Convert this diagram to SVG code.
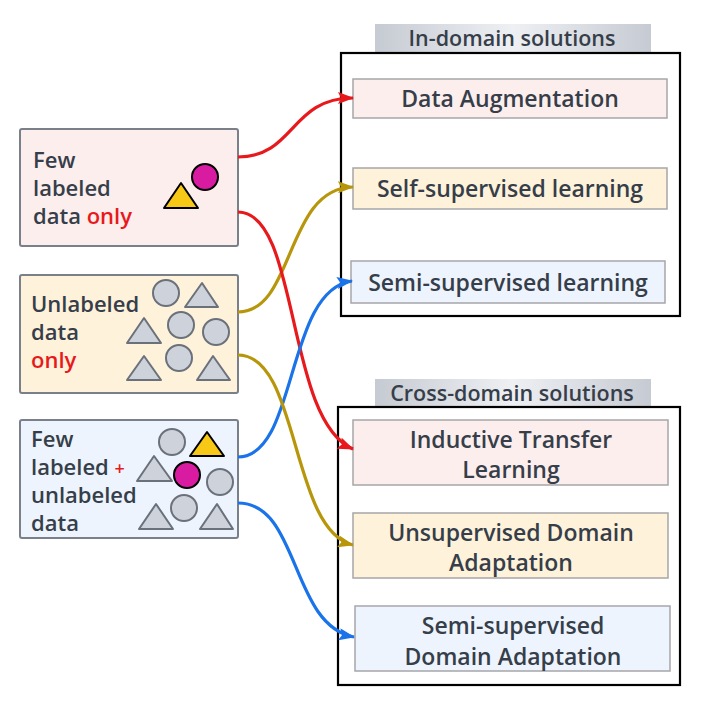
<svg xmlns="http://www.w3.org/2000/svg" width="706" height="716" viewBox="0 0 706 716">
<defs>
<style>
.lbox{stroke:#7a8089;stroke-width:2}
.rbox{stroke:#a6a6a9;stroke-width:1.5}
.cont{fill:none;stroke:#000;stroke-width:2.2}
.t{font-family:"Open Sans","Noto Sans",sans-serif;font-weight:600;fill:#363e49}
.lt{font-size:22px}
.rt{font-size:23px;text-anchor:middle}
.ht{font-size:21.5px;text-anchor:middle}
.red{fill:#e8191c}
.pink{fill:#fdeeee}
.yel{fill:#fff2db}
.blu{fill:#edf4fd}
.gc{fill:#ced3db;stroke:#6b717a;stroke-width:2}
.mag{fill:#d81ba0;stroke:#000;stroke-width:2}
.ytri{fill:#f7c815;stroke:#000;stroke-width:2;stroke-linejoin:round}
.gtri{fill:#ced3db;stroke:#6b717a;stroke-width:2;stroke-linejoin:round}
.c{fill:none;stroke-width:3.2}
</style>
<linearGradient id="hg" x1="0" y1="0" x2="1" y2="0">
<stop offset="0" stop-color="#c6cad2"/>
<stop offset="0.5" stop-color="#eef0f3"/>
<stop offset="1" stop-color="#c6cad2"/>
</linearGradient>
<marker id="aR" viewBox="0 0 16 12" refX="15" refY="6" markerWidth="16" markerHeight="12" markerUnits="userSpaceOnUse" orient="auto"><path d="M0,0 L16,6 L0,12 L3,6 z" fill="#e8191c"/></marker>
<marker id="aY" viewBox="0 0 16 12" refX="15" refY="6" markerWidth="16" markerHeight="12" markerUnits="userSpaceOnUse" orient="auto"><path d="M0,0 L16,6 L0,12 L3,6 z" fill="#b8960b"/></marker>
<marker id="aB" viewBox="0 0 16 12" refX="15" refY="6" markerWidth="16" markerHeight="12" markerUnits="userSpaceOnUse" orient="auto"><path d="M0,0 L16,6 L0,12 L3,6 z" fill="#1a73e8"/></marker>
</defs>
<rect width="706" height="716" fill="#fff"/>

<g id="in-domain">
<rect x="375" y="24" width="276" height="28" fill="url(#hg)"/>
<text class="t ht" x="512" y="46">In-domain solutions</text>
<rect class="cont" x="341" y="53" width="339" height="263"/>
</g>
<g id="cross-domain">
<rect x="375" y="379" width="276" height="28" fill="url(#hg)"/>
<text class="t ht" x="512" y="401">Cross-domain solutions</text>
<rect class="cont" x="338" y="407" width="342" height="278"/>
</g>

<g id="data-augmentation">
<rect class="rbox pink" x="353" y="79" width="314" height="39"/>
<text class="t rt" x="510" y="107">Data Augmentation</text>
</g>
<g id="self-supervised">
<rect class="rbox yel" x="353" y="168" width="314" height="41"/>
<text class="t rt" x="510" y="197">Self-supervised learning</text>
</g>
<g id="semi-supervised">
<rect class="rbox blu" x="351" y="261" width="314" height="42"/>
<text class="t rt" x="508" y="291">Semi-supervised learning</text>
</g>
<g id="inductive-transfer">
<rect class="rbox pink" x="353" y="420" width="315" height="65"/>
<text class="t rt" x="511" y="448">Inductive Transfer</text>
<text class="t rt" x="511" y="478">Learning</text>
</g>
<g id="uda">
<rect class="rbox yel" x="353" y="513" width="315" height="65"/>
<text class="t rt" x="511" y="541">Unsupervised Domain</text>
<text class="t rt" x="511" y="571">Adaptation</text>
</g>
<g id="ssda">
<rect class="rbox blu" x="355" y="606" width="315" height="65"/>
<text class="t rt" x="513" y="634">Semi-supervised</text>
<text class="t rt" x="513" y="665">Domain Adaptation</text>
</g>

<g id="few-labeled">
<rect class="lbox pink" x="20" y="129" width="218" height="117" rx="2"/>
<text class="t lt" x="33" y="168">Few</text>
<text class="t lt" x="33" y="196">labeled</text>
<text class="t lt" x="33" y="224">data <tspan class="red">only</tspan></text>
<polygon class="ytri" points="181,183 164,208 198,208"/>
<circle class="mag" cx="205" cy="177" r="13"/>
</g>

<g id="unlabeled">
<rect class="lbox yel" x="20" y="275" width="218" height="118" rx="2"/>
<text class="t lt" x="31" y="312">Unlabeled</text>
<text class="t lt" x="31" y="340">data</text>
<text class="t lt red" x="31" y="368">only</text>
<circle class="gc" cx="166" cy="293" r="13"/>
<polygon class="gtri" points="202,283 185,307 218,307"/>
<polygon class="gtri" points="144,318 127,343 161,343"/>
<circle class="gc" cx="181" cy="325" r="13"/>
<circle class="gc" cx="216" cy="332" r="13"/>
<circle class="gc" cx="179" cy="358" r="13"/>
<polygon class="gtri" points="144,356 127,380 161,380"/>
<polygon class="gtri" points="213,356 197,380 230,380"/>
</g>

<g id="few-plus-unlabeled">
<rect class="lbox blu" x="20" y="420" width="218" height="118" rx="2"/>
<text class="t lt" x="31" y="447">Few</text>
<text class="t lt" x="31" y="475">labeled <tspan class="red" font-size="18">+</tspan></text>
<text class="t lt" x="31" y="503">unlabeled</text>
<text class="t lt" x="31" y="531">data</text>
<circle class="gc" cx="172" cy="442" r="13"/>
<polygon class="ytri" points="207,432 190,456 224,456"/>
<polygon class="gtri" points="154,456 137,481 172,481"/>
<circle class="mag" cx="187" cy="475" r="13"/>
<circle class="gc" cx="220" cy="482" r="13"/>
<circle class="gc" cx="184" cy="508" r="13"/>
<polygon class="gtri" points="156,504 139,529 173,529"/>
<polygon class="gtri" points="217,504 200,529 233,529"/>
</g>

<g id="connectors">
<path class="c" stroke="#e8191c" marker-end="url(#aR)" d="M238,157 C295,157 290,98 353,98"/>
<path class="c" stroke="#b8960b" marker-end="url(#aY)" d="M238,312 C295,312 285,188 353,187"/>
<path class="c" stroke="#e8191c" marker-end="url(#aR)" d="M238,212 C300,212 285,420 353,449"/>
<path class="c" stroke="#1a73e8" marker-end="url(#aB)" d="M238,457 C298,457 285,290 352,281"/>
<path class="c" stroke="#b8960b" marker-end="url(#aY)" d="M238,355 C300,355 290,530 353,545"/>
<path class="c" stroke="#1a73e8" marker-end="url(#aB)" d="M238,503 C300,503 290,625 354,637"/>
</g>
</svg>
